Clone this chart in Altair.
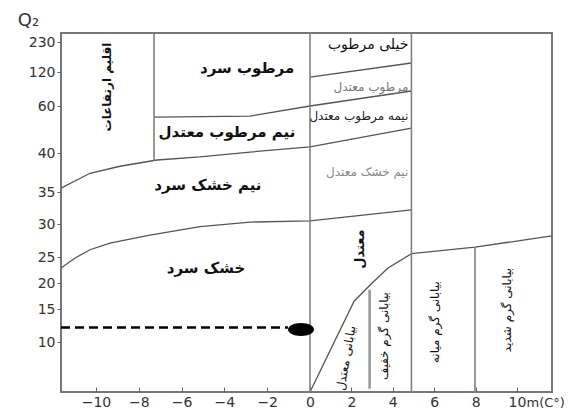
import altair as alt
import pandas as pd

# ---------------- axis ticks ----------------
x_ticks = [-10, -8, -6, -4, -2, 0, 2, 4, 6, 8, 10]
q_ticks = [10, 15, 20, 25, 30, 35, 40, 60, 120, 230]

# piecewise scales (the original graph paper is irregular)
x_domain = [-11.64, -10, 0, 10, 11.69]
x_range = [0, 35, 249, 456, 491]
q_domain = [2.5, 10, 15, 20, 25, 30, 35, 40, 60, 120, 230, 265]
q_range = [359, 309, 276, 250, 224, 191, 159, 120, 73, 39, 9, 0]

# ---------------- boundary curves ----------------
upper_curve_m = [-11.64, -10.28, -8.88, -7.15, -5.14, -2.80, 0.0, 4.9]
upper_curve_q = [35.5, 37.4, 38.3, 39.1, 39.5, 40.4, 42.6, 50.6]

humid_line_m = [-7.29, -2.80, 0.0, 4.9]
humid_line_q = [55.3, 55.7, 60.0, 86.5]

very_humid_m = [0.0, 4.9]
very_humid_q = [111.0, 153.0]

lower_curve_m = [-11.64, -10.98, -10.28, -9.35, -7.48, -5.14, -2.80, 0.0, 4.9]
lower_curve_q = [22.9, 24.8, 26.1, 27.1, 28.3, 29.6, 30.3, 30.5, 32.2]

desert_top_m = [4.9, 7.97, 11.69]
desert_top_q = [25.5, 26.5, 28.2]

slant_m = [0.0, 2.13, 3.0, 3.77, 4.9]
slant_q = [2.5, 16.5, 20.0, 22.9, 25.5]

# vertical dividers
vert_m = [-7.29, 0.0, 4.9, 7.97]
vert_q_top = [265, 265, 265, 26.5]
vert_q_bot = [39.0, 2.5, 2.5, 2.5]

minor_vert_m = [2.88]
minor_vert_q_top = [18.7]
minor_vert_q_bot = [3.0]

# station
station_m = [-0.42]
station_q = [11.9]
dash_m = [-11.64, -1.03]
dash_q = [12.2, 12.2]

# ---------------- labels ----------------
big_labels = ["مرطوب سرد", "نیم مرطوب معتدل", "نیم خشک سرد", "خشک سرد"]
big_m = [-2.94, -3.88, -4.77, -4.86]
big_q = [134.7, 48.9, 35.9, 22.9]

vbold_labels = ["اقلیم ارتفاعات", "معتدل"]
vbold_m = [-9.49, 2.42]
vbold_q = [93.5, 26.2]
vbold_size = [12, 13]

desert_labels = ["بیابانی معتدل", "بیابانی گرم خفیف", "بیابانی گرم میانه", "بیابانی گرم شدید"]
desert_m = [1.74, 3.57, 6.04, 9.52]
desert_q = [7.6, 10.9, 13.0, 14.85]
desert_angle = [280, 270, 270, 270]

right_labels = ["خیلی مرطوب", "مرطوب معتدل", "نیمه مرطوب معتدل", "نیم خشک معتدل"]
right_m = [4.75, 4.75, 4.75, 4.75]
right_q = [219, 93.5, 55.7, 37.6]
right_color = ["#111111", "#777777", "#222222", "#888888"]
right_size = [14, 12, 12, 12]

FONT = "DejaVu Sans"

# ---------------- build tables ----------------
rows = []
for name, ms, qs in [("upper", upper_curve_m, upper_curve_q),
                     ("humid", humid_line_m, humid_line_q),
                     ("vhumid", very_humid_m, very_humid_q),
                     ("lower", lower_curve_m, lower_curve_q),
                     ("desert", desert_top_m, desert_top_q),
                     ("slant", slant_m, slant_q)]:
    for i, (m, q) in enumerate(zip(ms, qs)):
        rows.append({"seg": name, "o": i, "m": m, "q": q})
curves_df = pd.DataFrame(rows)

vert_df = pd.DataFrame({"m": vert_m, "q": vert_q_top, "q2": vert_q_bot})
minor_df = pd.DataFrame({"m": minor_vert_m, "q": minor_vert_q_top, "q2": minor_vert_q_bot})
dash_df = pd.DataFrame({"m": dash_m, "q": dash_q, "o": [0, 1]})
station_df = pd.DataFrame({"m": station_m, "q": station_q})
big_df = pd.DataFrame({"t": big_labels, "m": big_m, "q": big_q})
vbold_df = pd.DataFrame({"t": vbold_labels, "m": vbold_m, "q": vbold_q, "s": vbold_size})
desert_df = pd.DataFrame({"t": desert_labels, "m": desert_m, "q": desert_q, "a": desert_angle})
right_df = pd.DataFrame({"t": right_labels, "m": right_m, "q": right_q, "c": right_color, "s": right_size})

xscale = alt.Scale(domain=x_domain, range=x_range, nice=False, zero=False, clamp=True)
yscale = alt.Scale(domain=q_domain, range=q_range, nice=False, zero=False, clamp=True)

x_axis = alt.Axis(values=x_ticks, title="m(C°)", titleX=465, titleY=15,
                  titleAlign="left", titleBaseline="middle", titleFontSize=13,
                  titleFontWeight="normal", titleColor="#333", titleFont=FONT,
                  labelFont=FONT, labelFontSize=14, labelColor="#333",
                  tickColor="#666", tickSize=5, offset=-5, domain=False, grid=False,
                  labelPadding=3, labelOverlap=False, labelFlush=False)
y_axis = alt.Axis(values=q_ticks, title="Q₂", titleAngle=0, titleX=-33, titleY=-13,
                  titleAlign="center", titleBaseline="middle", titleFontSize=18,
                  titleFontWeight="normal", titleColor="#333", titleFont=FONT,
                  labelFont=FONT, labelFontSize=14, labelColor="#333",
                  tickColor="#666", tickSize=4, domain=False, grid=False,
                  labelPadding=2, labelOverlap=False, labelFlush=False)

X = alt.X("m:Q", scale=xscale, axis=x_axis)
Y = alt.Y("q:Q", scale=yscale, axis=y_axis)

curves = alt.Chart(curves_df).mark_line(color="#555", strokeWidth=1.3).encode(
    x=X, y=Y, detail="seg:N", order="o:Q")
verts = alt.Chart(vert_df).mark_rule(color="#808080", strokeWidth=1.6).encode(
    x=X, y=Y, y2="q2:Q")
minor = alt.Chart(minor_df).mark_rule(color="#9a9a9a", strokeWidth=2.6).encode(
    x=X, y=Y, y2="q2:Q")
dashed = alt.Chart(dash_df).mark_line(color="black", strokeWidth=2.5, strokeDash=[9, 5]).encode(
    x=X, y=Y, order="o:Q")
station = alt.Chart(station_df).mark_point(
    filled=True, color="black", opacity=1, size=676,
    shape="M-1,0A1,0.5 0 1,0 1,0A1,0.5 0 1,0 -1,0Z").encode(x=X, y=Y)

big_text = alt.Chart(big_df).mark_text(font=FONT, fontSize=15, fontWeight="bold", color="#111").encode(
    x=X, y=Y, text="t:N")
vbold_text = alt.Chart(vbold_df).mark_text(font=FONT, fontWeight="bold", color="#111", angle=270).encode(
    x=X, y=Y, text="t:N", size=alt.Size("s:Q", scale=None))
desert_text = alt.Chart(desert_df).mark_text(font=FONT, fontSize=12, color="#111").encode(
    x=X, y=Y, text="t:N", angle=alt.Angle("a:Q", scale=None))
right_text = alt.Chart(right_df).mark_text(font=FONT, align="right").encode(
    x=X, y=Y, text="t:N", color=alt.Color("c:N", scale=None), size=alt.Size("s:Q", scale=None))

chart = alt.layer(curves, verts, minor, dashed, station, big_text, vbold_text, desert_text, right_text).properties(
    width=491, height=359,
    autosize=alt.AutoSizeParams(type="none"),
    padding={"left": 53, "top": 25, "right": 14, "bottom": 17},
    background="white",
).configure_view(stroke="#777", strokeWidth=2)

chart.save("out.html", embed_options={"renderer": "svg", "actions": False})
